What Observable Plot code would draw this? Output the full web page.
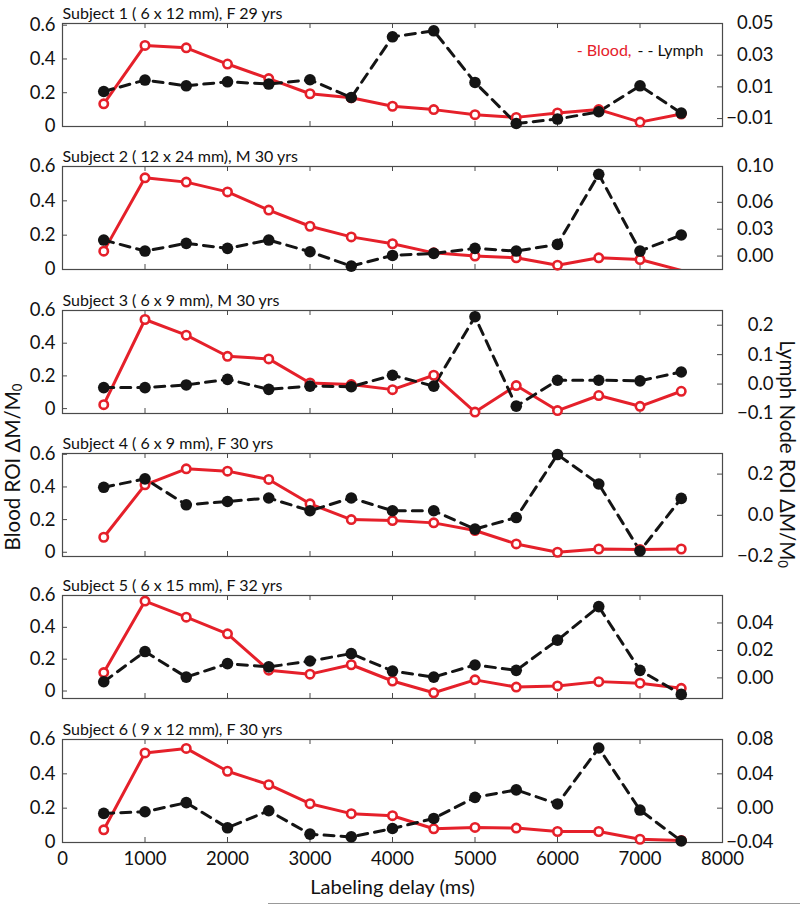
<!DOCTYPE html>
<html><head><meta charset="utf-8">
<script src="https://cdn.jsdelivr.net/npm/d3@7"></script>
<script src="https://cdn.jsdelivr.net/npm/@observablehq/plot@0.6"></script>
<style>
body{margin:0;background:#fff;}
#chart{position:relative;width:800px;height:905px;overflow:hidden;background:#fff;}
#chart svg{position:absolute;left:0;}
</style></head><body><div id="chart"></div><script>
// ---- data ----
const delays = [500,1000,1500,2000,2500,3000,3500,4000,4500,5000,5500,6000,6500,7000,7500];
const titles = [
  "Subject 1 ( 6 x 12 mm), F 29 yrs",
  "Subject 2 ( 12 x 24 mm), M 30 yrs",
  "Subject 3 ( 6 x 9 mm), M 30 yrs",
  "Subject 4 ( 6 x 9 mm), F 30 yrs",
  "Subject 5 ( 6 x 15 mm), F 32 yrs",
  "Subject 6 ( 9 x 12 mm), F 30 yrs"
];
const blood1 = [0.134,0.48,0.466,0.37,0.284,0.194,0.17,0.12,0.10,0.07,0.054,0.08,0.10,0.026,0.074];
const blood2 = [0.107,0.534,0.509,0.452,0.346,0.252,0.19,0.15,0.097,0.078,0.068,0.025,0.068,0.058,-0.005];
const blood3 = [0.024,0.545,0.449,0.32,0.304,0.157,0.147,0.116,0.204,-0.021,0.141,-0.012,0.08,0.014,0.106];
const blood4 = [0.092,0.413,0.511,0.497,0.446,0.297,0.2,0.194,0.18,0.133,0.051,0.0,0.02,0.017,0.02];
const blood5 = [0.116,0.565,0.464,0.359,0.131,0.106,0.165,0.063,-0.011,0.07,0.025,0.032,0.059,0.049,0.017];
const blood6 = [0.074,0.522,0.548,0.415,0.337,0.226,0.168,0.156,0.08,0.088,0.084,0.064,0.064,0.019,0.012];
const lymph1 = [0.0071,0.0143,0.0107,0.0132,0.0118,0.0145,0.0033,0.0416,0.0454,0.0128,-0.0131,-0.0103,-0.0057,0.0107,-0.0065];
const lymph2 = [0.0179,0.0056,0.0142,0.0086,0.0179,0.0048,-0.0112,0.0007,0.003,0.0086,0.0056,0.013,0.0913,0.0056,0.0235];
const lymph3 = [-0.012,-0.012,-0.003,0.016,-0.018,-0.007,-0.009,0.030,-0.007,0.229,-0.075,0.013,0.013,0.011,0.041];
const lymph4 = [0.136,0.177,0.051,0.067,0.084,0.022,0.084,0.022,0.022,-0.067,-0.011,0.295,0.152,-0.173,0.082];
const lymph5 = [-0.0028,0.0192,0.0006,0.0104,0.008,0.0123,0.0177,0.005,0.0006,0.0094,0.0055,0.0275,0.0519,0.0055,-0.012];
const lymph6 = [-0.0061,-0.0042,0.0064,-0.0229,-0.003,-0.0303,-0.0335,-0.0237,-0.012,0.0126,0.0213,0.0049,0.0701,-0.0022,-0.0382];
const bloods = [blood1,blood2,blood3,blood4,blood5,blood6];
const lymphs = [lymph1,lymph2,lymph3,lymph4,lymph5,lymph6];
const bloodDomains = [[0,0.61],[0,0.6],[-0.03,0.6],[-0.026,0.605],[-0.047,0.6],[0,0.6]];
const lymphDomains = [[-0.015,0.05],[-0.015,0.10],[-0.1,0.25],[-0.2,0.3],[-0.015,0.06],[-0.04,0.08]];
const lymphTicks = [[-0.01,0.01,0.03,0.05],[0,0.03,0.06,0.10],[-0.1,0,0.1,0.2],[-0.2,0,0.2],[0,0.02,0.04],[-0.04,0,0.04,0.08]];
const lymphDecimals = [2,2,1,1,2,2];
const bloodTicks = [0,0.2,0.4,0.6];
const xTicks = [0,1000,2000,3000,4000,5000,6000,7000,8000];
const xLabel = "Labeling delay (ms)";
const legendBlood = "- Blood,";
const legendLymph = "- - Lymph";

// ---- layout ----
const W = 800, ML = 62, MR = 78, MT = 23, PH = 103;
const frameTops = [23,165.5,309.5,453,595,738.5];
const RED = "#e5202a", BLACK = "#141414", AX = "#4a4a4a";
const FONT = "Lato, 'Open Sans', sans-serif";
const chart = document.getElementById("chart");

function panel(i){
  const last = i === 5;
  const top = frameTops[i] - MT;
  const H = last ? 905 - top : 143;
  const MB = H - MT - PH;
  const [b0,b1] = bloodDomains[i], [l0,l1] = lymphDomains[i];
  const toB = v => b0 + (v - l0) * (b1 - b0) / (l1 - l0);
  const fromB = b => l0 + (b - b0) * (l1 - l0) / (b1 - b0);
  const fmtL = v => { let r = +v.toFixed(lymphDecimals[i]); if (Math.abs(r) < 1e-9) r = 0; return (r < 0 ? "\u2212" : "") + Math.abs(r).toFixed(lymphDecimals[i]); };
  const fmtB = v => v === 0 ? "0" : v.toFixed(1);
  const rows = delays.map((x,j) => ({x, blood: bloods[i][j], lymph: toB(lymphs[i][j])}));
  const pw = W - ML - MR;
  const marks = [
    Plot.tickY(bloodTicks, {y: d => d, insetRight: pw - 5, stroke: AX}),
    Plot.tickY(lymphTicks[i].map(toB), {y: d => d, insetLeft: pw - 5, stroke: AX}),
    Plot.tickX(xTicks, {x: d => d, insetBottom: PH - 5, stroke: AX}),
    Plot.tickX(xTicks, {x: d => d, insetTop: PH - 5, stroke: AX}),
    Plot.frame({stroke: AX, strokeWidth: 1.2}),
    Plot.axisY(bloodTicks, {anchor: "left", tickSize: 0, tickPadding: 7, tickFormat: fmtB, fontSize: 18.5, label: null, fill: "#111"}),
    Plot.axisY(lymphTicks[i].map(toB), {anchor: "right", tickSize: 0, tickPadding: 51, textAnchor: "end", tickFormat: d => fmtL(fromB(d)), fontSize: 18.5, label: null, fill: "#111"}),
    Plot.line(rows, {x: "x", y: "blood", stroke: RED, strokeWidth: 3, clip: true}),
    Plot.line(rows, {x: "x", y: "lymph", stroke: BLACK, strokeWidth: 3, strokeDasharray: "10,7", clip: true}),
    Plot.dot(rows, {x: "x", y: "blood", r: 4.2, stroke: RED, strokeWidth: 2.6, fill: "white", filter: d => d.blood >= b0}),
    Plot.dot(rows, {x: "x", y: "lymph", r: 5.8, fill: BLACK}),
    Plot.text([titles[i]], {frameAnchor: "top-left", textAnchor: "start", lineAnchor: "bottom", dy: -5, fontSize: 16, fill: "#111"})
  ];
  if (i === 0) {
    marks.push(Plot.text([legendLymph], {frameAnchor: "top-right", textAnchor: "end", dx: -19, dy: 21, fontSize: 16, fill: "#111"}));
    marks.push(Plot.text([legendBlood], {frameAnchor: "top-right", textAnchor: "end", dx: -91, dy: 21, fontSize: 16, fill: RED}));
  }
  if (last) {
    marks.push(Plot.axisX(xTicks, {anchor: "bottom", tickSize: 0, tickPadding: 9, tickFormat: d => String(d), fontSize: 18.5, label: null, fill: "#111"}));
    marks.push(Plot.text([xLabel], {frameAnchor: "bottom", lineAnchor: "middle", dy: 45, fontSize: 20, fill: "#111"}));
  }
  const svg = Plot.plot({
    width: W, height: H,
    marginLeft: ML, marginRight: MR, marginTop: MT, marginBottom: MB,
    style: {fontFamily: FONT, background: "transparent", color: "#111", overflow: "visible"},
    x: {domain: [0, 8000], ...(last ? {} : {axis: null})},
    y: {domain: [b0, b1]},
    marks
  });
  svg.style.top = top + "px";
  chart.appendChild(svg);
}
for (let i = 0; i < 6; i++) panel(i);

// overlay axis titles
const ov = d3.create("svg").attr("width", W).attr("height", 905).style("top", "0px").style("font-family", FONT);
const lt = ov.append("text").attr("transform", "translate(15,467) rotate(-90)").attr("text-anchor", "middle").attr("dominant-baseline", "middle").attr("font-size", 20.5).attr("fill", "#111");
lt.append("tspan").text("Blood ROI \u0394M/M");
lt.append("tspan").attr("font-size", 13).attr("dy", 4).text("0");
const rt = ov.append("text").attr("transform", "translate(785,454) rotate(90)").attr("text-anchor", "middle").attr("dominant-baseline", "middle").attr("font-size", 20.5).attr("fill", "#111");
rt.append("tspan").text("Lymph Node ROI \u0394M/M");
rt.append("tspan").attr("font-size", 13).attr("dy", 4).text("0");
ov.append("line").attr("x1", 268).attr("x2", 800).attr("y1", 903.5).attr("y2", 903.5).attr("stroke", "#999").attr("stroke-width", 1);
chart.appendChild(ov.node());
</script></body></html>
